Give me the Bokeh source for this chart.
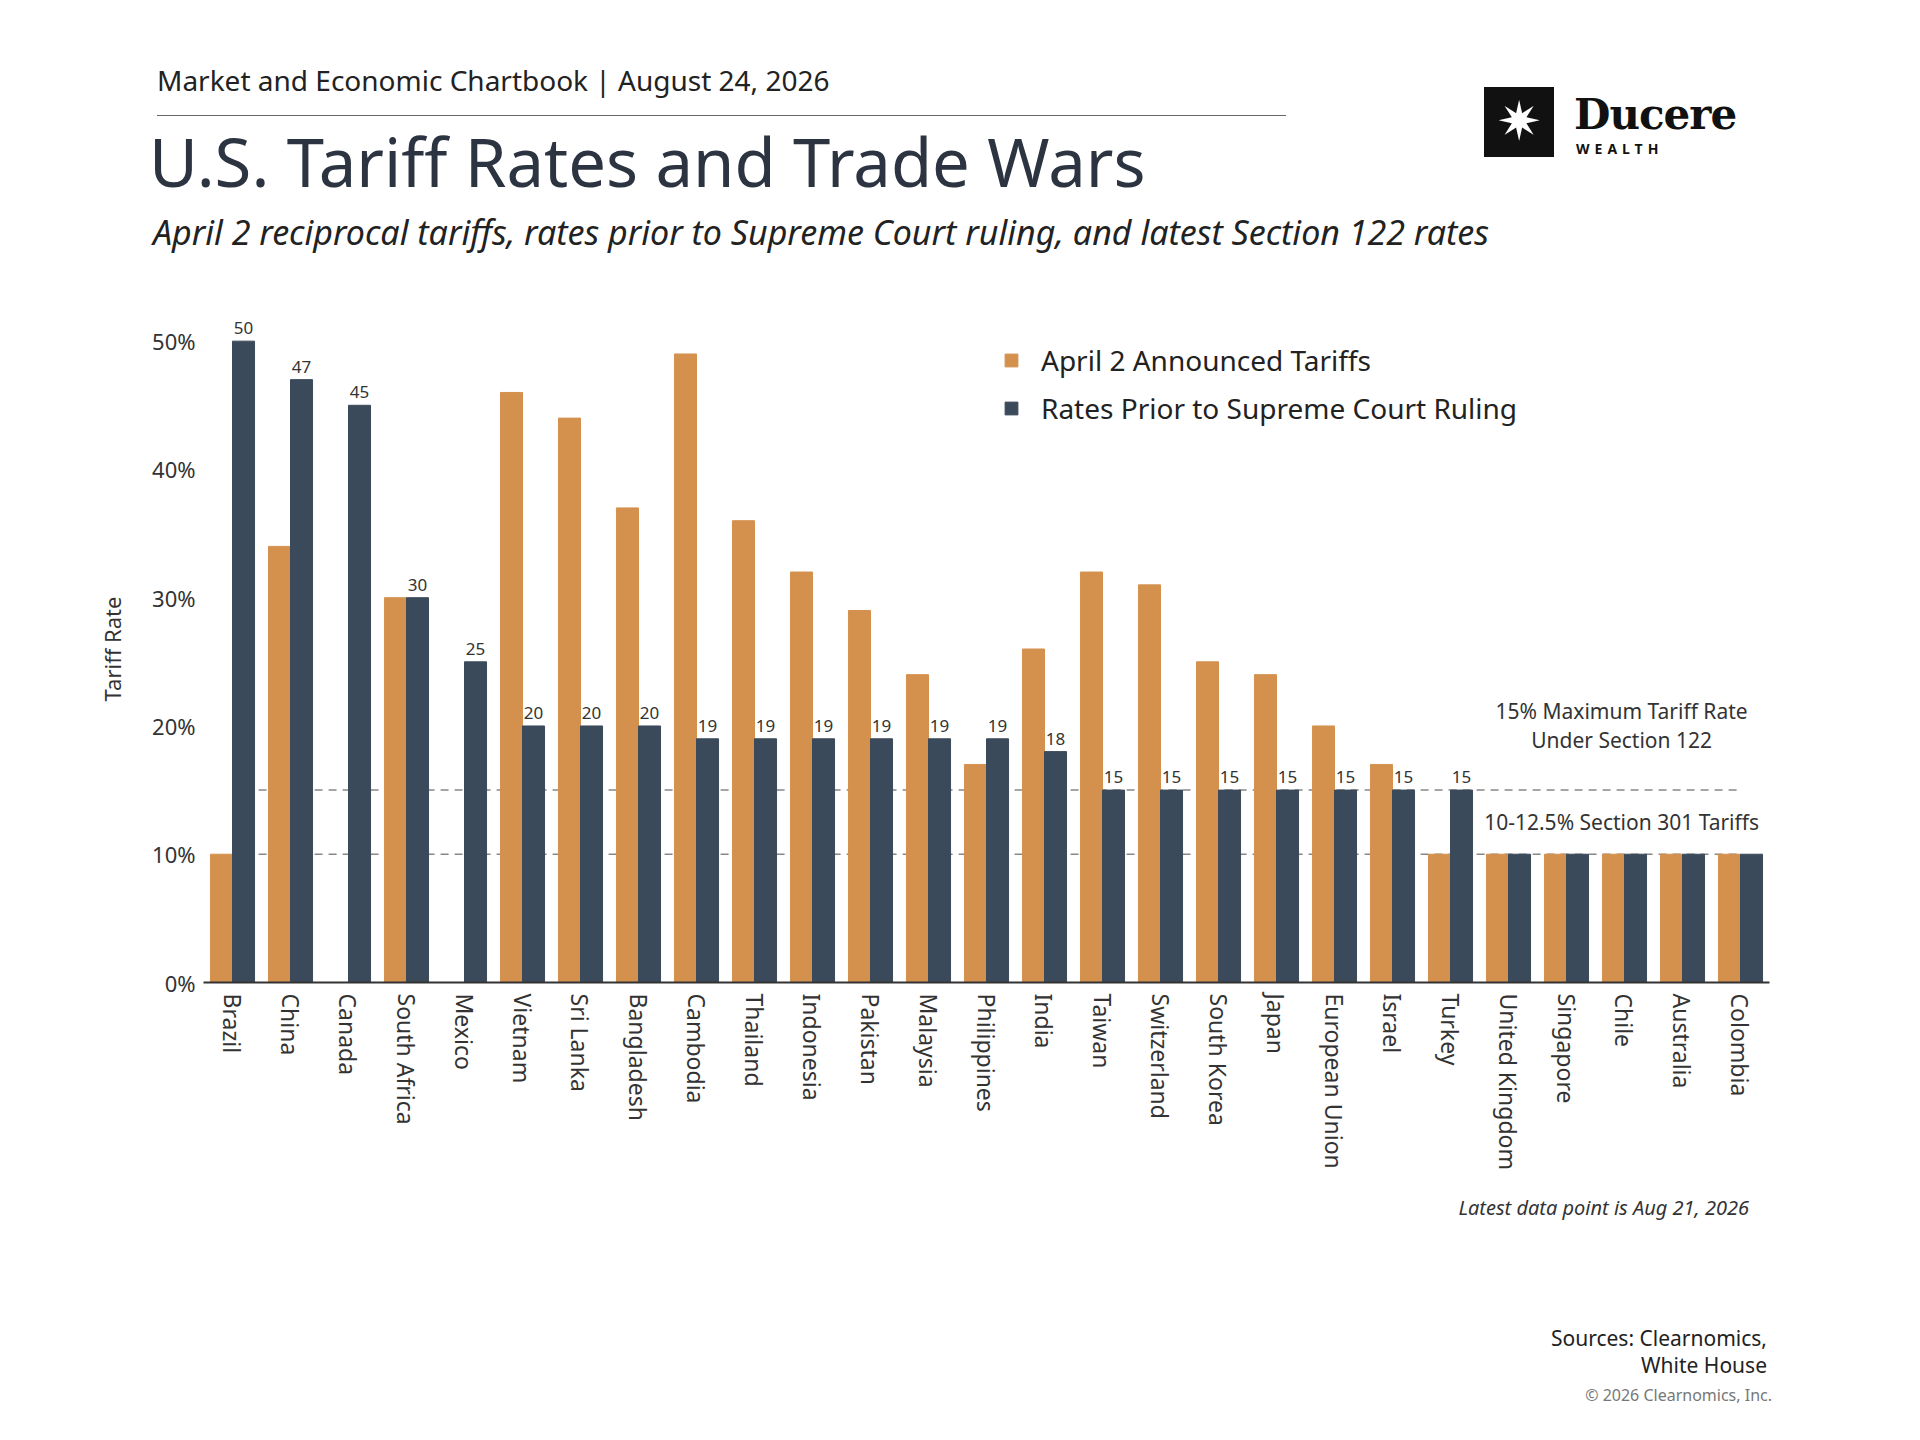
from bokeh.plotting import figure
from bokeh.layouts import column
from bokeh.models import ColumnDataSource, Label, Legend, LegendItem, FixedTicker, Div
from bokeh.core.properties import value
from bokeh.embed import file_html
from bokeh.resources import INLINE

countries = ["Brazil", "China", "Canada", "South Africa", "Mexico", "Vietnam", "Sri Lanka",
             "Bangladesh", "Cambodia", "Thailand", "Indonesia", "Pakistan", "Malaysia",
             "Philippines", "India", "Taiwan", "Switzerland", "South Korea", "Japan",
             "European Union", "Israel", "Turkey", "United Kingdom", "Singapore", "Chile",
             "Australia", "Colombia"]
april2 = [10, 34, 0, 30, 0, 46, 44, 37, 49, 36, 32, 29, 24, 17, 26, 32, 31, 25, 24, 20, 17, 10,
          10, 10, 10, 10, 10]
prior = [50, 47, 45, 30, 25, 20, 20, 20, 19, 19, 19, 19, 19, 19, 18, 15, 15, 15, 15, 15, 15, 15,
         10, 10, 10, 10, 10]
n_labelled = 22
y_ticks = [0, 10, 20, 30, 40, 50]

ORANGE = "#D4914E"
DARK = "#3B4A5A"
FONT = "Noto Sans"
W = 0.38
WIDTH = 1904
HEAD_H = 315
CHART_H = 880
FOOT_H = 1424 - HEAD_H - CHART_H


def span(x, base, text, size, color="#222222", style="normal", weight="normal",
         font=FONT, right=False, extra=""):
    top = base - 0.86 * size
    pos = f"right:{WIDTH - x}px;" if right else f"left:{x}px;"
    return (f"<div style='position:absolute;{pos}top:{top:.0f}px;font-family:\"{font}\";"
            f"font-size:{size}px;line-height:1;color:{color};font-style:{style};"
            f"font-weight:{weight};white-space:nowrap;{extra}'>{text}</div>")


def box(inner, h):
    return Div(width=WIDTH, height=h,
               text=f"<div style='position:relative;width:{WIDTH}px;height:{h}px;'>{inner}</div>",
               styles={"margin": "0", "padding": "0"})


# ---- header
head = "".join([
    span(157, 90, "Market and Economic Chartbook | August 24, 2026", 28),
    "<div style='position:absolute;left:157px;top:115px;width:1129px;height:0;"
    "border-top:1.5px solid #666'></div>",
    span(149, 186, "U.S. Tariff Rates and Trade Wars", 67, color="#2B3440"),
    span(153, 244, "April 2 reciprocal tariffs, rates prior to Supreme Court ruling, "
         "and latest Section 122 rates", 34, style="italic"),
    "<div style='position:absolute;left:1484px;top:87px;width:70px;height:70px;"
    "background:#111;color:white;font-size:54px;line-height:70px;text-align:center;"
    "font-family:\"DejaVu Sans\"'>&#10039;</div>",
    span(1574, 130, "Ducere", 42, weight="bold", color="#111111", font="DejaVu Serif",
         extra="letter-spacing:-1px;"),
    span(1576, 154, "WEALTH", 14, weight="bold", color="#111111",
         extra="letter-spacing:5px;"),
])
h = box(head, HEAD_H)

# ---- chart
idx = list(range(len(countries)))
src = ColumnDataSource(dict(
    xo=[i - W / 2 for i in idx], xd=[i + W / 2 for i in idx],
    april=april2, prior=prior))
lab = ColumnDataSource(dict(
    x=[i + W / 2 for i in idx[:n_labelled]],
    y=prior[:n_labelled],
    t=[str(v) for v in prior[:n_labelled]]))

p = figure(width=WIDTH, height=CHART_H, output_backend="svg", toolbar_location=None,
           x_range=(-0.5, len(countries) - 0.5), y_range=(0, 52),
           min_border_left=203, min_border_right=135, min_border_top=0,
           min_border_bottom=CHART_H - 667)
p.outline_line_color = None
p.grid.visible = False

p.segment(x0=[0.45, 0.45], x1=[26.0, 26.0], y0=[15, 10], y1=[15, 10],
          line_color="#888888", line_dash="8 6", line_width=1.5)

ro = p.vbar(x="xo", top="april", width=W, source=src, color=ORANGE)
rd = p.vbar(x="xd", top="prior", width=W, source=src, color=DARK)

p.text(x="x", y="y", text="t", source=lab, text_align="center", text_baseline="bottom",
       y_offset=-7, text_font_size="17px", text_color="#333333", text_font=value(FONT))

p.xaxis.ticker = FixedTicker(ticks=idx)
p.xaxis.major_label_overrides = {i: c for i, c in enumerate(countries)}
p.xaxis.major_label_orientation = -1.5708
p.xaxis.major_label_text_font_size = "23px"
p.xaxis.major_label_text_font = FONT
p.xaxis.major_label_text_color = "#333333"
p.xaxis.axis_line_color = "#333333"
p.xaxis.axis_line_width = 2
p.xaxis.major_tick_line_color = None
p.xaxis.minor_tick_line_color = None

p.yaxis.ticker = FixedTicker(ticks=y_ticks)
p.yaxis.major_label_overrides = {v: f"{v}%" for v in y_ticks}
p.yaxis.major_label_text_font_size = "22px"
p.yaxis.major_label_text_font = FONT
p.yaxis.major_label_text_color = "#333333"
p.yaxis.major_label_standoff = 2
p.yaxis.axis_line_color = None
p.yaxis.major_tick_line_color = None
p.yaxis.minor_tick_line_color = None
p.yaxis.axis_label = "Tariff Rate"
p.yaxis.axis_label_text_font_style = "normal"
p.yaxis.axis_label_text_font_size = "22px"
p.yaxis.axis_label_text_font = FONT
p.yaxis.axis_label_text_color = "#333333"
p.yaxis.axis_label_standoff = 22

legend = Legend(items=[LegendItem(label="April 2 Announced Tariffs", renderers=[ro]),
                       LegendItem(label="Rates Prior to Supreme Court Ruling", renderers=[rd])],
                location=(800, 555), label_text_font_size="28px", label_text_font=FONT,
                label_text_color="#222222", border_line_color=None, background_fill_alpha=0,
                glyph_width=16, glyph_height=16, spacing=10, label_standoff=22)
p.add_layout(legend, "center")

for t, yy in [("15% Maximum Tariff Rate", 21.2), ("Under Section 122", 18.9),
              ("10-12.5% Section 301 Tariffs", 12.5)]:
    p.add_layout(Label(x=23.95, y=yy, text=t, text_align="center", text_baseline="middle",
                       text_font_size="21px", text_font=FONT, text_color="#333333"))

# ---- footer (y relative to footer top)
y0 = HEAD_H + CHART_H
foot = "".join([
    span(1749, 1215 - y0, "Latest data point is Aug 21, 2026", 20, style="italic",
         color="#333333", right=True),
    span(1767, 1346 - y0, "Sources: Clearnomics,", 21, right=True),
    span(1767, 1373 - y0, "White House", 21, right=True),
    span(1772, 1401 - y0, "&copy; 2026 Clearnomics, Inc.", 16, color="#777777", right=True),
])
ft = box(foot, FOOT_H)

layout = column(h, p, ft, spacing=0)
open("out.html", "w").write(file_html(layout, INLINE))
